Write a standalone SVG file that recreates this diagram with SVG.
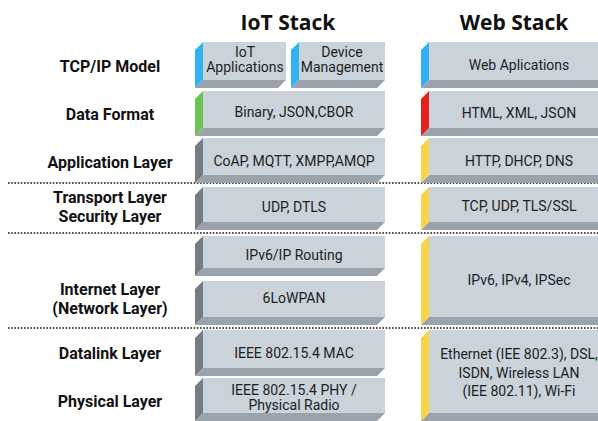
<svg xmlns="http://www.w3.org/2000/svg" width="598" height="421" viewBox="0 0 598 421">
  <style>
    .front { fill: #cad2da; }
    .bottom { fill: #9aa3ab; }
    .side { fill: #737c84; }
    .blue { fill: #33b2f2; }
    .green { fill: #6cc552; }
    .red { fill: #e4211d; }
    .yellow { fill: #f8d44a; }
    .box { font-family: Roboto, "Liberation Sans", sans-serif; font-size: 14px; fill: #1e1e1e; text-anchor: middle; }
    .lbl { font-family: Roboto, "Liberation Sans", sans-serif; font-weight: bold; font-size: 16px; fill: #111; text-anchor: middle; }
    .title { font-family: "Open Sans", "DejaVu Sans", sans-serif; font-weight: bold; font-size: 21px; fill: #111; text-anchor: middle; }
    .sep { stroke: #111; stroke-width: 1.6; stroke-dasharray: 1.6 1.6; fill: none; }
  </style>

  <rect width="598" height="421" fill="#ffffff"/>

  <!-- column headings -->
  <text class="title" x="288" y="30">IoT Stack</text>
  <text class="title" x="514" y="30">Web Stack</text>

  <!-- layer names -->
  <g id="layer-names">
    <text class="lbl" x="110" y="72">TCP/IP Model</text>
    <text class="lbl" x="110" y="120">Data Format</text>
    <text class="lbl" x="110" y="168">Application Layer</text>
    <text class="lbl" x="110" y="203">Transport Layer</text>
    <text class="lbl" x="110" y="222">Security Layer</text>
    <text class="lbl" x="110" y="295">Internet Layer</text>
    <text class="lbl" x="110" y="314">(Network Layer)</text>
    <text class="lbl" x="110" y="359">Datalink Layer</text>
    <text class="lbl" x="110" y="407">Physical Layer</text>
  </g>

  <!-- dotted separators between layer groups -->
  <g id="separators">
    <line class="sep" x1="8" y1="183" x2="598" y2="183"/>
    <line class="sep" x1="8" y1="233" x2="598" y2="233"/>
    <line class="sep" x1="8" y1="328" x2="598" y2="328"/>
  </g>

  <!-- IoT stack blocks: front face, left side, bottom edge (depth 8) -->
  <g id="iot-applications">
    <polygon class="bottom" points="203,80 286,80 278,88 195,88"/>
    <polygon class="blue" points="195,50 203,42 203,80 195,88"/>
    <rect class="front" x="203" y="42" width="83" height="38"/>
    <text class="box" x="245" y="57">IoT</text>
    <text class="box" x="245" y="72">Applications</text>
  </g>
  <g id="device-management">
    <polygon class="bottom" points="299,80 385,80 377,88 291,88"/>
    <polygon class="blue" points="291,50 299,42 299,80 291,88"/>
    <rect class="front" x="299" y="42" width="86" height="38"/>
    <text class="box" x="342" y="57">Device</text>
    <text class="box" x="342" y="72">Management</text>
  </g>
  <g id="iot-data-format">
    <polygon class="bottom" points="203,128 385,128 377,136 195,136"/>
    <polygon class="green" points="195,99 203,91 203,128 195,136"/>
    <rect class="front" x="203" y="91" width="182" height="37"/>
    <text class="box" x="294" y="117">Binary, JSON,CBOR</text>
  </g>
  <g id="iot-application-layer">
    <polygon class="bottom" points="203,175 385,175 377,183 195,183"/>
    <polygon class="side" points="195,146 203,138 203,175 195,183"/>
    <rect class="front" x="203" y="138" width="182" height="37"/>
    <text class="box" x="294" y="166">CoAP, MQTT, XMPP,AMQP</text>
  </g>
  <g id="iot-transport-layer">
    <polygon class="bottom" points="203,222 385,222 377,230 195,230"/>
    <polygon class="side" points="195,195 203,187 203,222 195,230"/>
    <rect class="front" x="203" y="187" width="182" height="35"/>
    <text class="box" x="294" y="212">UDP, DTLS</text>
  </g>
  <g id="iot-ip-routing">
    <polygon class="bottom" points="203,268 385,268 377,276 195,276"/>
    <polygon class="side" points="195,244 203,236 203,268 195,276"/>
    <rect class="front" x="203" y="236" width="182" height="32"/>
    <text class="box" x="294" y="260">IPv6/IP Routing</text>
  </g>
  <g id="iot-6lowpan">
    <polygon class="bottom" points="203,317 385,317 377,325 195,325"/>
    <polygon class="side" points="195,289 203,281 203,317 195,325"/>
    <rect class="front" x="203" y="281" width="182" height="36"/>
    <text class="box" x="294" y="303">6LoWPAN</text>
  </g>
  <g id="iot-mac">
    <polygon class="bottom" points="203,368 385,368 377,376 195,376"/>
    <polygon class="side" points="195,338 203,330 203,368 195,376"/>
    <rect class="front" x="203" y="330" width="182" height="38"/>
    <text class="box" x="294" y="358">IEEE 802.15.4 MAC</text>
  </g>
  <g id="iot-phy">
    <polygon class="bottom" points="203,413 385,413 377,421 195,421"/>
    <polygon class="side" points="195,386 203,378 203,413 195,421"/>
    <rect class="front" x="203" y="378" width="182" height="35"/>
    <text class="box" x="294" y="395">IEEE 802.15.4 PHY /</text>
    <text class="box" x="294" y="410">Physical Radio</text>
  </g>

  <!-- Web stack blocks -->
  <g id="web-applications">
    <polygon class="bottom" points="429,80 610,80 602,88 421,88"/>
    <polygon class="blue" points="421,50 429,42 429,80 421,88"/>
    <rect class="front" x="429" y="42" width="181" height="38"/>
    <text class="box" x="519" y="70">Web Aplications</text>
  </g>
  <g id="web-data-format">
    <polygon class="bottom" points="429,128 610,128 602,136 421,136"/>
    <polygon class="red" points="421,99 429,91 429,128 421,136"/>
    <rect class="front" x="429" y="91" width="181" height="37"/>
    <text class="box" x="519" y="118">HTML, XML, JSON</text>
  </g>
  <g id="web-application-layer">
    <polygon class="bottom" points="429,175 610,175 602,183 421,183"/>
    <polygon class="yellow" points="421,146 429,138 429,175 421,183"/>
    <rect class="front" x="429" y="138" width="181" height="37"/>
    <text class="box" x="519" y="166">HTTP, DHCP, DNS</text>
  </g>
  <g id="web-transport-layer">
    <polygon class="bottom" points="429,222 610,222 602,230 421,230"/>
    <polygon class="yellow" points="421,195 429,187 429,222 421,230"/>
    <rect class="front" x="429" y="187" width="181" height="35"/>
    <text class="box" x="519" y="211">TCP, UDP, TLS/SSL</text>
  </g>
  <g id="web-internet-layer">
    <polygon class="bottom" points="429,317 610,317 602,325 421,325"/>
    <polygon class="yellow" points="421,244 429,236 429,317 421,325"/>
    <rect class="front" x="429" y="236" width="181" height="81"/>
    <text class="box" x="519" y="285">IPv6, IPv4, IPSec</text>
  </g>
  <g id="web-link-layer">
    <polygon class="bottom" points="429,413 610,413 602,421 421,421"/>
    <polygon class="yellow" points="421,338 429,330 429,413 421,421"/>
    <rect class="front" x="429" y="330" width="181" height="83"/>
    <text class="box" x="519" y="359">Ethernet (IEE 802.3), DSL,</text>
    <text class="box" x="519" y="378">ISDN, Wireless LAN</text>
    <text class="box" x="519" y="396">(IEE 802.11), Wi-Fi</text>
  </g>
</svg>
